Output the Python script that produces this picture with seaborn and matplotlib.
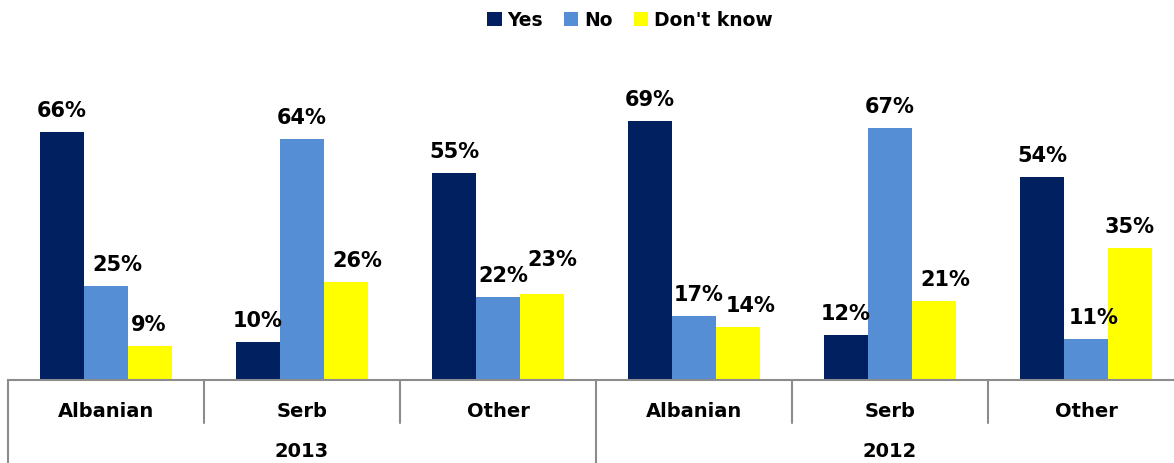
import matplotlib
matplotlib.use("Agg")
import matplotlib.pyplot as plt
import matplotlib.transforms as mtransforms
import seaborn as sns
import pandas as pd

# Survey answers by ethnic group, for two survey years
years = ["2013", "2013", "2013", "2012", "2012", "2012"]
groups = ["Albanian", "Serb", "Other", "Albanian", "Serb", "Other"]
answers = ["Yes", "No", "Don't know"]
yes = [66, 10, 55, 69, 12, 54]
no = [25, 64, 22, 17, 67, 11]
dont_know = [9, 26, 23, 14, 21, 35]

colors = {"Yes": "#002060", "No": "#558ED5", "Don't know": "#FFFF00"}

# Nudges (pixels) for value labels that were moved by hand to avoid overlaps
label_dx = {"Yes": [0, 0, 0, 0, 0, 0],
            "No": [11, 0, 5, 5, 0, 8],
            "Don't know": [-1, 11, 10, 13, 11, 0]}
label_dy = {"Yes": [0, 0, 0, 0, 0, 0],
            "No": [0, 0, 0, 0, 0, 0],
            "Don't know": [0, 0, 13, 0, 0, 0]}

keys = [f"{g} {y}" for g, y in zip(groups, years)]
rows = []
for series, vals in zip(answers, [yes, no, dont_know]):
    for k, v in zip(keys, vals):
        rows.append({"key": k, "answer": series, "value": v})
df = pd.DataFrame(rows)

sns.set_style("white")
plt.rcParams["font.family"] = ["DejaVu Sans"]
plt.rcParams["text.color"] = "black"
plt.rcParams["xtick.color"] = "black"

W, H = 1174, 464
fig = plt.figure(figsize=(W / 100, H / 100), dpi=100)
left_px, right_px, base_px, top_px = 8, 1184, 381, 40
ax = fig.add_axes([left_px / W, (H - base_px) / H,
                   (right_px - left_px) / W, (base_px - top_px) / H])

sns.barplot(data=df, x="key", y="value", hue="answer", order=keys,
            hue_order=answers, palette=colors, width=0.673, gap=0,
            saturation=1, linewidth=0, ax=ax, legend=True, errorbar=None)

ax.set_xlim(-0.5, len(keys) - 0.5)
ax.set_ylim(0, 90.7)
ax.set_yticks([])
ax.set_xlabel("")
ax.set_ylabel("")
for s in ["left", "right", "top"]:
    ax.spines[s].set_visible(False)
ax.spines["bottom"].set_color("#8c8c8c")
ax.spines["bottom"].set_linewidth(1.5)

# Value labels above each bar
for container, series in zip(ax.containers, answers):
    for j, patch in enumerate(container):
        h = patch.get_height()
        ax.annotate(f"{h:.0f}%", (patch.get_x() + patch.get_width() / 2, h),
                    xytext=(label_dx[series][j], 16 + label_dy[series][j]),
                    textcoords="offset pixels",
                    ha="center", va="baseline", fontsize=15,
                    fontweight="bold", color="black")

# Two-level category axis
ax.set_xticks(range(len(keys)))
ax.set_xticklabels(groups, fontsize=14, fontweight="bold", color="black")
ax.tick_params(axis="x", length=0, pad=15)

trans = mtransforms.blended_transform_factory(ax.transData, ax.transAxes)
axes_h = base_px - top_px
short = -(424 - base_px) / axes_h
long_ = -(H - base_px) / axes_h
for i in range(len(keys) + 1):
    xpos = i - 0.5
    y_end = long_ if i % 3 == 0 else short
    ax.plot([xpos, xpos], [0, y_end], transform=trans, color="#8c8c8c",
            lw=1.5, clip_on=False)

for start, year in [(0, "2013"), (3, "2012")]:
    ax.text(start + 1, -(452 - base_px) / axes_h, year, transform=trans,
            ha="center", va="center", fontsize=14, fontweight="bold",
            color="black")

# Legend across the top
handles, labels = ax.get_legend_handles_labels()
leg = ax.legend(handles, labels, loc="center",
                bbox_to_anchor=(630 / W, 1 - 21 / H),
                bbox_transform=fig.transFigure, ncol=3, frameon=False,
                prop={"weight": "bold", "size": 13.5}, handlelength=0.75,
                handleheight=0.75, handletextpad=0.3, columnspacing=1.15)
for t in leg.get_texts():
    t.set_color("black")

fig.savefig("out.png", dpi=100)
